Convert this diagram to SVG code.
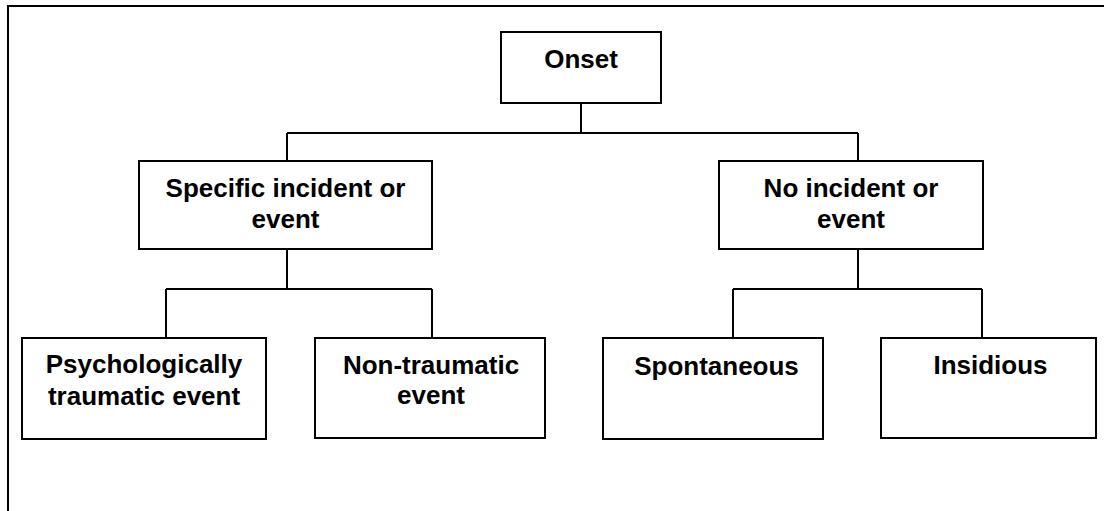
<svg xmlns="http://www.w3.org/2000/svg" width="1104" height="511" viewBox="0 0 1104 511">
<style>
.box{fill:#fff;stroke:#000;stroke-width:2}
.ln{fill:none;stroke:#000;stroke-width:2}
.t{font-family:"Liberation Sans",Arial,sans-serif;font-weight:bold;font-size:26px;fill:#000;text-anchor:middle}
</style>
<rect width="1104" height="511" fill="#fff"/>
<g id="frame">
<path class="ln" d="M8,511 V6 H1104"/>
</g>
<g id="connectors">
<path class="ln" d="M581,103 V133 M287,133 H858 M287,133 V161 M858,133 V161"/>
<path class="ln" d="M287,249 V289 M166,289 H432 M166,289 V338 M432,289 V338"/>
<path class="ln" d="M858,249 V289 M733,289 H982 M733,289 V338 M982,289 V338"/>
</g>
<g id="onset">
<rect class="box" x="501" y="32" width="160" height="71"/>
<text class="t" x="581" y="68">Onset</text>
</g>
<g id="specific">
<rect class="box" x="139" y="161" width="293" height="88"/>
<text class="t" x="285.5" y="197">Specific incident or</text>
<text class="t" x="285.5" y="228">event</text>
</g>
<g id="noincident">
<rect class="box" x="719" y="161" width="264" height="88"/>
<text class="t" x="851" y="197">No incident or</text>
<text class="t" x="851" y="228">event</text>
</g>
<g id="psych">
<rect class="box" x="22" y="338" width="244" height="101"/>
<text class="t" x="144" y="373">Psychologically</text>
<text class="t" x="144" y="404.5">traumatic event</text>
</g>
<g id="nontraumatic">
<rect class="box" x="315" y="338" width="230" height="100"/>
<text class="t" x="431" y="374">Non-traumatic</text>
<text class="t" x="431" y="404">event</text>
</g>
<g id="spontaneous">
<rect class="box" x="603" y="338" width="220" height="101"/>
<text class="t" x="716.5" y="375">Spontaneous</text>
</g>
<g id="insidious">
<rect class="box" x="881" y="338" width="215" height="100"/>
<text class="t" x="990.5" y="374">Insidious</text>
</g>
</svg>
